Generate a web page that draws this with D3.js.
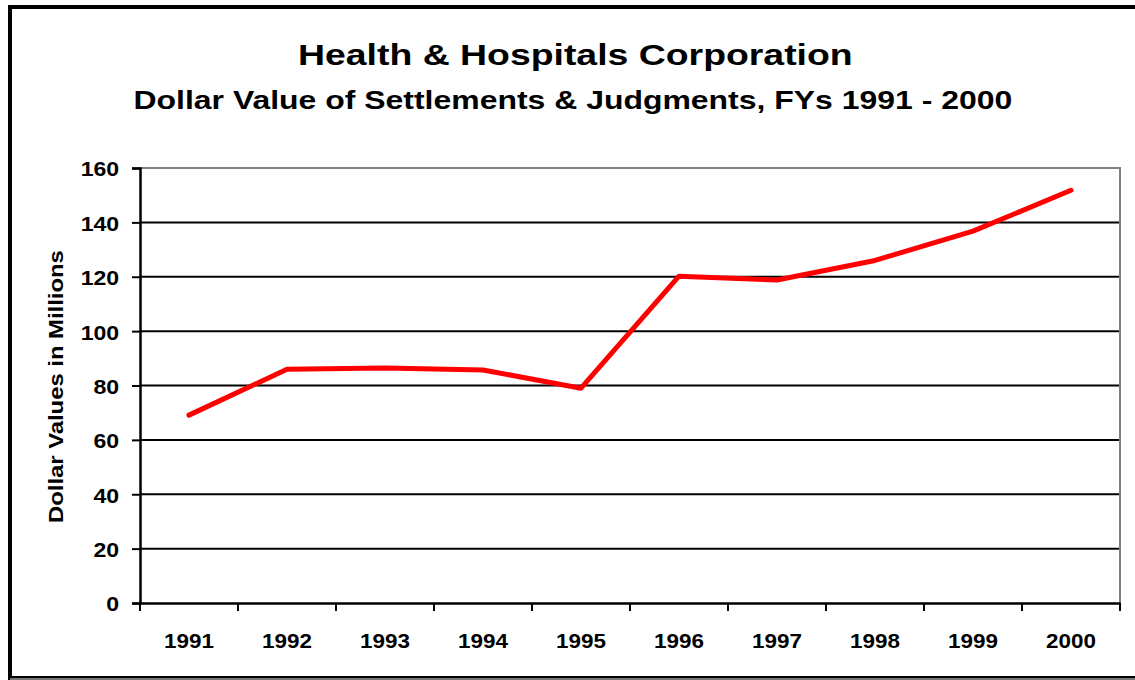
<!DOCTYPE html>
<html><head><meta charset="utf-8">
<script src="https://cdn.jsdelivr.net/npm/d3@7"></script>
<style>body{margin:0;background:#fff;} text{font-family:"Liberation Sans",Arial,sans-serif;font-weight:bold;fill:#000;}</style>
</head><body>
<svg id="c" width="1135" height="680"></svg>
<script>
const years = ["1991","1992","1993","1994","1995","1996","1997","1998","1999","2000"];
const values = [69.1, 86.0, 86.4, 85.7, 79.0, 120.2, 118.8, 126.0, 136.8, 151.8];
const yTicks = [0,20,40,60,80,100,120,140,160];
const title = "Health & Hospitals Corporation";
const subtitle = "Dollar Value of Settlements & Judgments, FYs 1991 - 2000";
const yLabel = "Dollar Values in Millions";

const svg = d3.select("#c");
const L=140, R=1120, T=168, B=603;
const FF = "Liberation Sans, Arial, sans-serif";
// frame
svg.append("rect").attr("x",10).attr("y",7).attr("width",1135).attr("height",671)
  .attr("fill","none").attr("stroke","#000").attr("stroke-width",4);
svg.append("line").attr("x1",10).attr("x2",1135).attr("y1",679).attr("y2",679).attr("stroke","#777").attr("stroke-width",2);

const x = d3.scaleBand().domain(years).range([L,R]);
const y = d3.scaleLinear().domain([0,160]).range([B,T]);

// gridlines
svg.append("g").selectAll("line").data(yTicks.filter(d=>d>0 && d<160)).join("line")
  .attr("x1",L).attr("x2",R).attr("y1",d=>y(d)).attr("y2",d=>y(d))
  .attr("stroke","#000").attr("stroke-width",2);
// top and right border (gray)
svg.append("path").attr("d",`M${L},${T}H${R}V${B}`).attr("fill","none").attr("stroke","#808080").attr("stroke-width",2);

// y axis
const ya = svg.append("g").attr("transform",`translate(${L},0)`)
  .call(d3.axisLeft(y).tickValues(yTicks).tickSize(8).tickPadding(12));
ya.select(".domain").attr("stroke","#000").attr("stroke-width",2.5);
ya.selectAll(".tick line").attr("stroke","#000").attr("stroke-width",2);
ya.selectAll("text").style("font-size","21px").style("font-family",FF).style("font-weight","bold").attr("dy","0.38em")
  .each(function(){ const w=this.getComputedTextLength(); const target=w*1.1; this.setAttribute("transform",`translate(${-12},0) scale(1.1,1) translate(12,0)`); });

// x axis
const xa = svg.append("g").attr("transform",`translate(0,${B})`)
  .call(d3.axisBottom(x).tickSize(0).tickPadding(30));
xa.select(".domain").attr("stroke","#000").attr("stroke-width",2.5);
xa.selectAll("text").style("font-size","21px").style("font-family",FF).style("font-weight","bold")
  .each(function(){ const w=this.getComputedTextLength(); const s=50/w; this.setAttribute("transform",`scale(${s},1)`); });
// category boundary ticks
const edges = years.map(d=>x(d)).concat([R]);
svg.append("g").selectAll("line").data(edges).join("line")
  .attr("x1",d=>d).attr("x2",d=>d).attr("y1",B).attr("y2",B+8)
  .attr("stroke","#000").attr("stroke-width",2);

// line
const line = d3.line().x((d,i)=>x(years[i])+x.bandwidth()/2).y(d=>y(d));
svg.append("path").datum(values).attr("d",line).attr("fill","none")
  .attr("stroke","#ff0000").attr("stroke-width",5).attr("stroke-linejoin","round").attr("stroke-linecap","round");

// stretched text helper: left x, baseline y, target width
function stretched(txt, size, x0, y0, width, rotate){
  const t = svg.append("text").style("font-size",size+"px").attr("x",0).attr("y",0).text(txt);
  const w = t.node().getComputedTextLength();
  const s = width / w;
  if (rotate) t.attr("transform",`translate(${x0},${y0}) rotate(-90) scale(${s},1)`);
  else t.attr("transform",`translate(${x0},${y0}) scale(${s},1)`);
  return t;
}
stretched(title, 30, 298, 64.5, 555);
stretched(subtitle, 26.5, 133.5, 108.5, 879);
stretched(yLabel, 20.5, 63, 523, 273, true);
</script>
</body></html>
